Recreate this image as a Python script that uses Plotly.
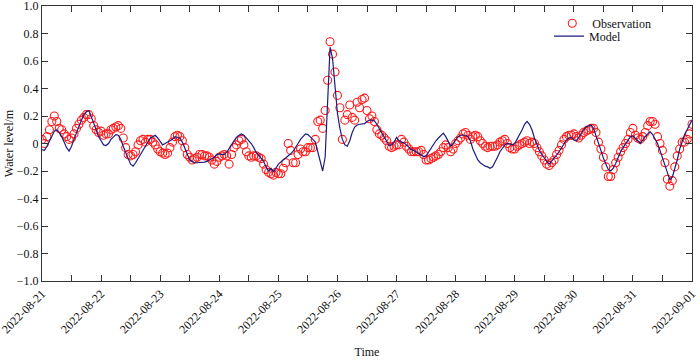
import pandas as pd
import plotly.graph_objects as go

start = "2022-08-21 00:00"
n_hours = 265

observation = [
    0.03, 0.00, 0.05, 0.10, 0.16, 0.20, 0.16, 0.11, 0.10, 0.07, 0.05, 0.03,
    0.04, 0.07, 0.11, 0.14, 0.17, 0.19, 0.21, 0.21, 0.18, 0.13, 0.10, 0.08,
    0.09, 0.06, 0.07, 0.07, 0.10, 0.11, 0.12, 0.13, 0.11, 0.04, -0.03, -0.08,
    -0.09, -0.08, -0.06, -0.01, 0.02, 0.03, 0.01, 0.03, 0.03, 0.01, -0.01, -0.04,
    -0.06, -0.07, -0.08, -0.07, -0.03, 0.01, 0.05, 0.06, 0.05, 0.02, -0.03, -0.08,
    -0.10, -0.12, -0.11, -0.10, -0.08, -0.08, -0.09, -0.09, -0.10, -0.12, -0.15, -0.13,
    -0.10, -0.09, -0.08, -0.09, -0.15, -0.08, -0.03, -0.01, 0.02, 0.03, -0.01, -0.06,
    -0.09, -0.10, -0.09, -0.09, -0.10, -0.11, -0.15, -0.19, -0.21, -0.22, -0.23, -0.21,
    -0.22, -0.22, -0.18, -0.14, 0.00, -0.05, -0.14, -0.14, -0.08, -0.04, -0.06, -0.06,
    -0.03, -0.03, -0.03, 0.03, 0.16, 0.17, 0.11, 0.24, 0.46, 0.74, 0.65, 0.52,
    0.35, 0.26, 0.03, 0.17, 0.21, 0.28, 0.19, 0.17, 0.30, 0.26, 0.32, 0.33,
    0.24, 0.18, 0.20, 0.16, 0.10, 0.07, 0.06, 0.04, 0.02, -0.02, -0.03, -0.02,
    -0.01, -0.01, 0.03, 0.01, -0.02, -0.04, -0.06, -0.06, -0.06, -0.06, -0.05, -0.08,
    -0.12, -0.12, -0.11, -0.10, -0.09, -0.08, -0.06, -0.03, -0.01, -0.03, -0.06, -0.04,
    0.00, 0.02, 0.04, 0.07, 0.08, 0.06, 0.03, 0.05, 0.06, 0.05, 0.02, 0.00,
    -0.02, -0.03, -0.02, -0.02, -0.02, -0.01, 0.01, 0.02, 0.03, 0.00, -0.03, -0.04,
    -0.04, -0.02, -0.01, 0.00, 0.01, 0.02, 0.00, 0.01, 0.00, -0.03, -0.06, -0.09,
    -0.12, -0.15, -0.16, -0.14, -0.12, -0.08, -0.05, -0.01, 0.03, 0.05, 0.06, 0.06,
    0.07, 0.05, 0.04, 0.06, 0.08, 0.09, 0.10, 0.11, 0.11, 0.08, 0.01, -0.04,
    -0.10, -0.17, -0.24, -0.24, -0.19, -0.14, -0.10, -0.06, -0.03, 0.00, 0.03, 0.08,
    0.11, 0.06, 0.04, 0.03, 0.05, 0.08, 0.13, 0.16, 0.16, 0.14, 0.05, 0.00,
    -0.05, -0.14, -0.26, -0.31, -0.27, -0.17, -0.09, -0.04, 0.01, 0.01, 0.03, 0.07,
    0.14,
]

model = [
    -0.045, -0.05, -0.02, 0.02, 0.06, 0.09, 0.10, 0.08, 0.05, 0.01, -0.03, -0.055,
    -0.02, 0.03, 0.08, 0.13, 0.17, 0.21, 0.23, 0.24, 0.20, 0.15, 0.10, 0.05,
    0.02, -0.01, -0.015, 0.00, 0.03, 0.05, 0.065, 0.06, 0.03, -0.02, -0.07, -0.11,
    -0.15, -0.165, -0.14, -0.11, -0.08, -0.05, -0.02, 0.01, 0.04, 0.05, 0.06, 0.04,
    0.015, -0.01, 0.00, 0.01, 0.02, 0.03, 0.05, 0.045, 0.04, 0.01, -0.03, -0.08,
    -0.12, -0.13, -0.14, -0.14, -0.14, -0.14, -0.135, -0.13, -0.12, -0.11, -0.10, -0.08,
    -0.075, -0.08, -0.08, -0.065, -0.04, -0.01, 0.02, 0.045, 0.06, 0.07, 0.06, 0.04,
    0.02, 0.00, -0.03, -0.065, -0.085, -0.105, -0.13, -0.17, -0.20, -0.18, -0.205, -0.18,
    -0.15, -0.135, -0.12, -0.11, -0.095, -0.075, -0.055, -0.03, 0.00, 0.03, 0.05, 0.07,
    0.065, 0.05, 0.03, 0.01, -0.06, -0.12, -0.20, -0.10, 0.28, 0.70, 0.62, 0.40,
    0.22, 0.11, 0.03, -0.01, -0.02, 0.02, 0.08, 0.12, 0.135, 0.14, 0.14, 0.145,
    0.16, 0.17, 0.17, 0.165, 0.14, 0.11, 0.08, 0.05, 0.015, -0.015, -0.01, 0.01,
    0.045, 0.02, 0.01, 0.005, -0.01, -0.025, -0.045, -0.05, -0.06, -0.07, -0.08, -0.095,
    -0.09, -0.06, -0.03, 0.00, 0.02, 0.04, 0.055, 0.075, 0.05, 0.02, -0.02, 0.00,
    0.03, 0.05, 0.06, 0.06, 0.06, 0.05, 0.02, -0.04, -0.085, -0.12, -0.14, -0.155,
    -0.165, -0.17, -0.18, -0.17, -0.14, -0.10, -0.06, -0.03, -0.01, 0.00, -0.005, -0.01,
    0.00, 0.03, 0.07, 0.10, 0.14, 0.16, 0.14, 0.10, 0.04, -0.01, -0.05, -0.08,
    -0.11, -0.13, -0.15, -0.13, -0.11, -0.085, -0.06, -0.03, 0.00, 0.025, 0.04, 0.045,
    0.025, 0.02, 0.045, 0.075, 0.10, 0.12, 0.13, 0.135, 0.11, 0.06, 0.015, -0.05,
    -0.105, -0.15, -0.19, -0.20, -0.18, -0.145, -0.10, -0.06, -0.03, 0.00, 0.03, 0.05,
    0.055, 0.04, 0.02, 0.00, 0.03, 0.05, 0.07, 0.085, 0.065, 0.035, 0.00, -0.05,
    -0.10, -0.15, -0.21, -0.265, -0.245, -0.19, -0.12, -0.04, 0.02, 0.065, 0.10, 0.14,
    0.17,
]

day_labels = ["2022-08-21", "2022-08-22", "2022-08-23", "2022-08-24", "2022-08-25",
              "2022-08-26", "2022-08-27", "2022-08-28", "2022-08-29", "2022-08-30",
              "2022-08-31", "2022-09-01"]
y_tickvals = [1.0, 0.8, 0.6, 0.4, 0.2, 0.0, -0.2, -0.4, -0.6, -0.8, -1.0]
y_ticktext = ["1.0", "0.8", "0.6", "0.4", "0.2", "0", "\u22120.2", "\u22120.4",
              "\u22120.6", "\u22120.8", "\u22121.0"]

times = pd.date_range(start, periods=n_hours, freq="h")
half_days = pd.date_range(day_labels[0], day_labels[-1], freq="12h")
x_ticktext = [t.strftime("%Y-%m-%d") if t.hour == 0 else "" for t in half_days]

font = "Liberation Serif, Times New Roman, serif"

fig = go.Figure()
fig.add_trace(go.Scatter(
    x=times, y=observation, mode="markers", name="Observation", legend="legend",
    marker=dict(symbol="circle-open", size=8, color="#ff1a1a", line=dict(width=1.1)),
))
fig.add_trace(go.Scatter(
    x=times, y=model, mode="lines", name="Model", legend="legend2",
    line=dict(color="#1c1c80", width=1.2),
))

fig.update_layout(
    width=700, height=361,
    margin=dict(l=42, r=8, t=6, b=80, autoexpand=False),
    paper_bgcolor="white", plot_bgcolor="white",
    font=dict(family=font, size=12, color="#111"),
    showlegend=True,
    legend=dict(x=0.785, y=0.99, xanchor="left", yanchor="top",
                bgcolor="rgba(0,0,0,0)", font=dict(size=12, family=font),
                itemwidth=30),
    legend2=dict(x=0.78, y=0.943, xanchor="left", yanchor="top",
                 bgcolor="rgba(0,0,0,0)", font=dict(size=12, family=font),
                 itemwidth=30),
)
fig.update_xaxes(
    range=[pd.Timestamp(day_labels[0]), pd.Timestamp(day_labels[-1])],
    tickmode="array", tickvals=half_days, ticktext=x_ticktext,
    tickangle=-45, ticks="inside", ticklen=6, tickcolor="#333",
    showline=True, linecolor="#333", linewidth=1, mirror="ticks",
    showgrid=False, zeroline=False, automargin=False, ticklabeloverflow="allow",
    title=dict(text="Time", font=dict(size=12, family=font), standoff=12),
    tickfont=dict(size=12, family=font),
)
fig.update_yaxes(
    range=[-1.0, 1.0], tickmode="array", tickvals=y_tickvals, ticktext=y_ticktext,
    ticks="inside", ticklen=6, tickcolor="#333",
    showline=True, linecolor="#333", linewidth=1, mirror="ticks",
    showgrid=False, zeroline=False, automargin=False, ticklabeloverflow="allow",
    title=dict(text="Water level/m", font=dict(size=12, family=font), standoff=0),
    tickfont=dict(size=12, family=font),
)

fig.write_html("out.html", config={"displayModeBar": False},
               post_script="document.body.style.margin='0';document.body.style.padding='0';")
